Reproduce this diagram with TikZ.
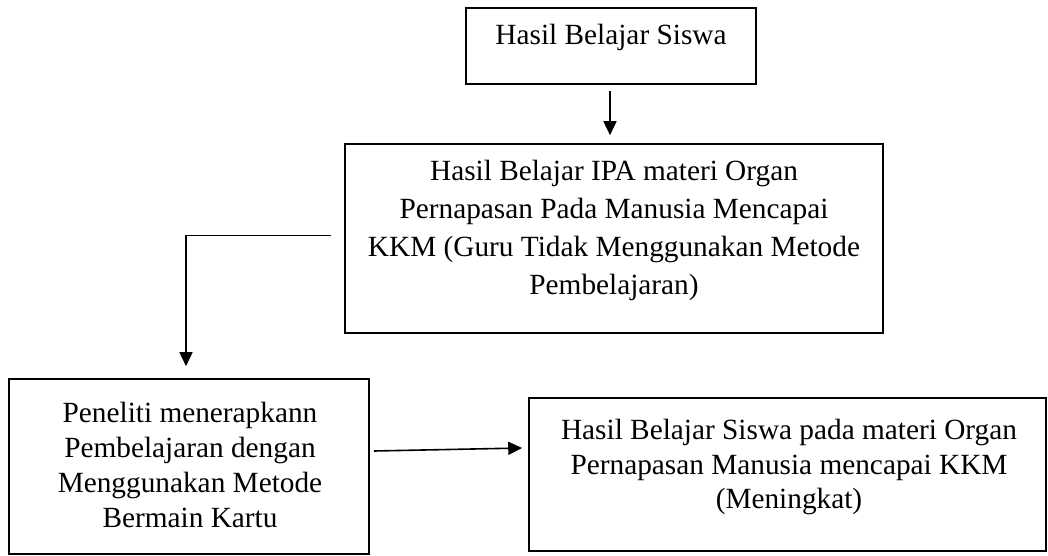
\documentclass[tikz,border=0pt]{standalone}
\usepackage{fontspec}
\setmainfont{Liberation Serif}
\usetikzlibrary{arrows.meta}
\begin{document}
\begin{tikzpicture}[x=1pt,y=-1pt,
 box/.style={draw,line width=1.6pt,rectangle,inner sep=0pt},
 txt/.style={align=center,font=\fontsize{29.3}{37.7}\selectfont,inner sep=0pt},
 conn/.style={line width=1.6pt,-{Triangle[length=14pt,width=13pt]}}]
\useasboundingbox (0,0) rectangle (1048,556);
\node[box,minimum width=290pt,minimum height=76pt] (b1) at (611,46) {};
\node[box,minimum width=538pt,minimum height=189pt] (b2) at (614,238.5) {};
\node[box,minimum width=360pt,minimum height=175pt] (b3) at (189,466.5) {};
\node[box,minimum width=517pt,minimum height=153pt] (b4) at (787.5,474.5) {};
\node[txt] (t1) at (611,37) {Hasil Belajar Siswa};
\node[txt] (t2) at (614,230.5) {Hasil Belajar IPA materi Organ\\Pernapasan Pada Manusia Mencapai\\KKM (Guru Tidak Menggunakan Metode\\Pembelajaran)};
\node[txt,font=\fontsize{29.3}{35}\selectfont] (t3) at (190,465) {Peneliti menerapkann\\Pembelajaran dengan\\Menggunakan Metode\\Bermain Kartu};
\node[txt,font=\fontsize{29.3}{34.5}\selectfont] (t4) at (789,467) {Hasil Belajar Siswa pada materi Organ\\Pernapasan Manusia mencapai KKM\\(Meningkat)};
\draw[conn] ([xshift=-1pt,yshift=-6pt]b1.south) -- ([xshift=-4pt,yshift=8pt]b2.north);
\draw[conn] ([xshift=-13pt,yshift=3pt]b2.west) -| ([xshift=-3pt,yshift=12pt]b3.north);
\draw[conn] ([xshift=4pt,yshift=15.5pt]b3.east) -- ([xshift=-6pt,yshift=26.5pt]b4.west);
\end{tikzpicture}
\end{document}
